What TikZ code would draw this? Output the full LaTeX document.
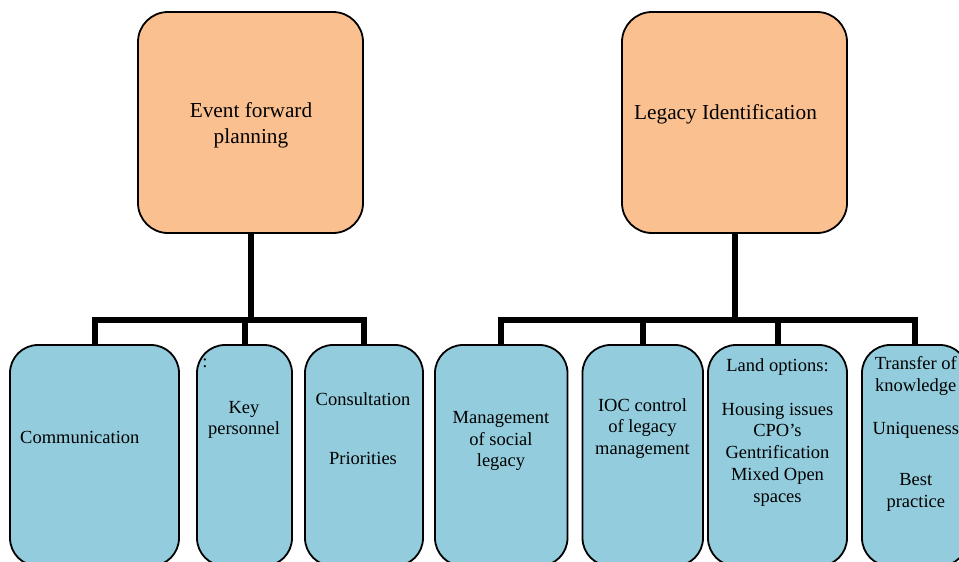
\documentclass[tikz,border=0pt]{standalone}
\usepackage{fontspec}
\setmainfont{Liberation Serif}
\definecolor{topfill}{HTML}{FAC090}
\definecolor{botfill}{HTML}{93CDDD}
\begin{document}
\begin{tikzpicture}[x=1pt,y=-1pt,
  topbox/.style={draw=black, line width=1.8pt, fill=topfill, rounded corners=30pt,
    minimum width=225pt, minimum height=221pt, inner sep=0pt, align=center,
    font=\fontsize{21.3}{26}\selectfont},
  botbox/.style={draw=black, line width=1.8pt, fill=botfill, rounded corners=28pt,
    minimum height=221pt, inner sep=0pt},
  lbl/.style={align=center, font=\fontsize{18.5}{21.8}\selectfont, inner sep=0pt},
  toplbl/.style={align=center, font=\fontsize{21.3}{26}\selectfont, inner sep=0pt},
  conn/.style={line width=6pt, line join=miter}]
\useasboundingbox (0,0) rectangle (959,562);

% top boxes
\node[topbox] (efp) at (250.5,122.5) {};
\node[toplbl] (efptext) at (251,125.5) {Event forward\\planning};
\node[topbox] (li) at (734.5,122.5) {};
\node[toplbl] (litext) at (725.5,114) {Legacy Identification};

% bottom boxes
\node[botbox, minimum width=169pt] (b1) at (94.5,455.5) {};
\node[botbox, minimum width=95pt] (b2) at (244.5,455.5) {};
\node[botbox, minimum width=118pt] (b3) at (364,455.5) {};
\node[botbox, minimum width=132.5pt] (b4) at (501.25,455.5) {};
\node[botbox, minimum width=120.5pt] (b5) at (642.75,455.5) {};
\node[botbox, minimum width=139pt] (b6) at (777.5,455.5) {};
\node[botbox, minimum width=106pt] (b7) at (915,455.5) {};

% connectors
\coordinate (barL) at (0,320);
\coordinate (barR) at (0,320);
\draw[conn] (efp.south) -- (efp.south |- barL);
\draw[conn] (b1.north) |- (b3.north |- barL) -- (b3.north);
\draw[conn] (b2.north) -- (b2.north |- barL);
\draw[conn] (li.south) -- (li.south |- barR);
\draw[conn] (b4.north) |- (b7.north |- barR) -- (b7.north);
\draw[conn] (b5.north) -- (b5.north |- barR);
\draw[conn] (b6.north) -- (b6.north |- barR);

% labels
\node[lbl, anchor=west] (t1) at (20,437) {Communication};
\node[lbl] (t2a) at (205,363) {:};
\node[lbl] (t2b) at (244,420) {Key\\personnel};
\node[lbl] (t3a) at (363,399) {Consultation};
\node[lbl] (t3b) at (363,458) {Priorities};
\node[lbl] (t4) at (501,441) {Management\\of social\\legacy};
\node[lbl] (t5) at (642.5,428.5) {IOC control\\of legacy\\management};
\node[lbl] (t6a) at (777.5,367) {Land options:};
\node[lbl] (t6b) at (777.5,454.5) {Housing issues\\CPO’s\\Gentrification\\Mixed Open\\spaces};
\node[lbl] (t7a) at (915.8,376) {Transfer of\\knowledge};
\node[lbl] (t7b) at (915.8,430) {Uniqueness};
\node[lbl] (t7c) at (915.8,492.8) {Best\\practice};
\end{tikzpicture}
\end{document}
